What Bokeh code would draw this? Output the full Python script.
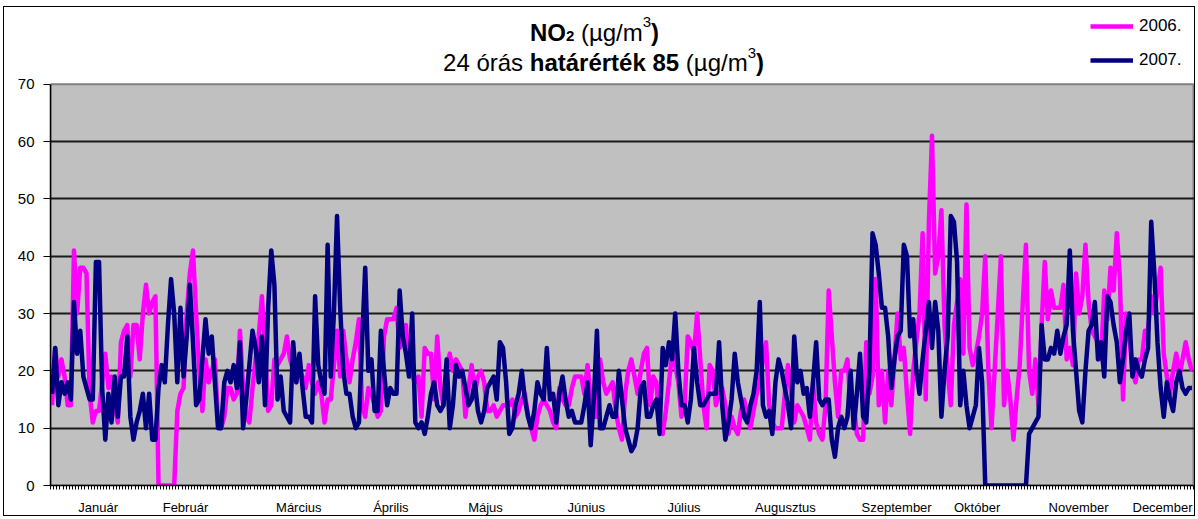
from bokeh.plotting import figure
from bokeh.models import Legend, LegendItem, FixedTicker, ColumnDataSource, Range1d
from bokeh.embed import file_html
from bokeh.resources import INLINE
from bokeh.core.properties import value

# ---------------- data ----------------
no2_2006 = [
    14, 24, 19, 22, 19, 14, 14, 41, 30, 38,
    38, 37, 16, 11, 13, 13, 18, 23, 17, 19,
    14, 11, 25, 27, 28, 19, 28, 28, 22, 30,
    35, 30, 32, 33, 0, 0, 0, 0, 0, 0,
    13, 16, 17, 30, 37, 41, 30, 20, 13, 22,
    18, 20, 22, 11, 10, 12, 17, 17, 15, 16,
    27, 17, 12, 11, 17, 22, 26, 33, 24, 13,
    14, 22, 21, 22, 23, 26, 22, 20, 18, 20,
    19, 17, 21, 18, 16, 18, 16, 11, 15, 15,
    21, 27, 19, 27, 22, 18, 22, 25, 29, 14,
    12, 17, 16, 14, 12, 13, 26, 29, 29, 29,
    31, 24, 25, 28, 20, 19, 18, 19, 12, 24,
    23, 23, 15, 26, 17, 14, 20, 23, 20, 22,
    21, 20, 12, 17, 21, 16, 19, 20, 18, 13,
    13, 14, 12, 13, 14, 14, 14, 15, 12, 13,
    15, 16, 12, 10, 8, 12, 14, 15, 14, 13,
    11, 10, 17, 15, 14, 14, 17, 19, 19, 19,
    16, 21, 15, 12, 12, 22, 18, 16, 17, 18,
    13, 10, 8, 16, 20, 22, 19, 16, 20, 23,
    24, 14, 19, 18, 10, 9, 13, 18, 23, 21,
    18, 12, 14, 26, 25, 23, 30, 22, 14, 10,
    21, 20, 14, 16, 17, 14, 9, 12, 10, 9,
    13, 15, 12, 10, 13, 16, 18, 22, 25, 14,
    11, 10, 10, 10, 16, 21, 16, 11, 14, 13,
    12, 10, 8, 18, 11, 9, 8, 14, 34, 26,
    18, 12, 20, 20, 22, 14, 14, 9, 8, 8,
    25, 16, 19, 36, 14, 20, 11, 20, 14, 22,
    30, 22, 24, 16, 9, 20, 25, 30, 44, 15,
    46, 61, 37, 40, 48, 28, 20, 14, 28, 32,
    36, 23, 49, 24, 21, 23, 26, 30, 40, 20,
    10, 20, 30, 40, 14, 20, 15, 8, 15, 21,
    32, 42, 20, 16, 22, 14, 28, 39, 29, 34,
    31, 31, 31, 35, 22, 24, 21, 37, 30, 33,
    42, 32, 27, 26, 25, 22, 34, 29, 38, 34,
    44, 36, 15, 30, 26, 20, 18, 22, 22, 27,
    27, 33, 30, 34, 38, 23, 19, 16, 20, 23,
    19, 22, 25, 22, 20,
]

no2_2007 = [
    16, 24, 14, 18, 16, 18, 15, 32, 23, 27,
    19, 17, 15, 15, 39, 39, 17, 8, 16, 11,
    19, 12, 19, 19, 26, 12, 8, 11, 13, 16,
    10, 16, 8, 8, 17, 21, 18, 28, 36, 30,
    18, 31, 19, 26, 35, 25, 14, 15, 22, 29,
    23, 26, 18, 10, 10, 18, 20, 18, 21, 17,
    25, 10, 15, 21, 27, 24, 18, 26, 14, 31,
    41, 35, 15, 19, 13, 12, 11, 25, 18, 23,
    17, 12, 12, 11, 33, 21, 18, 16, 42, 19,
    30, 47, 31, 20, 16, 16, 12, 10, 11, 25,
    38, 20, 22, 13, 13, 27, 20, 14, 17, 16,
    16, 34, 26, 23, 19, 30, 11, 10, 11, 9,
    12, 16, 18, 14, 13, 14, 22, 10, 14, 21,
    19, 20, 17, 14, 15, 18, 13, 11, 13, 17,
    18, 19, 15, 25, 24, 18, 9, 10, 14, 16,
    20, 15, 12, 10, 13, 18, 16, 15, 24, 15,
    16, 11, 16, 19, 15, 12, 13, 11, 11, 11,
    14, 18, 7, 15, 27, 10, 10, 12, 14, 12,
    12, 20, 15, 10, 8, 6, 7, 10, 17, 18,
    12, 12, 14, 15, 9, 24, 21, 25, 22, 30,
    20, 14, 14, 11, 15, 24, 18, 14, 14, 15,
    16, 16, 16, 25, 14, 8, 11, 15, 23, 18,
    15, 12, 11, 14, 16, 20, 32, 14, 12, 13,
    9, 18, 22, 20, 17, 14, 10, 26, 18, 20,
    16, 17, 12, 18, 25, 15, 14, 15, 15, 8,
    5, 10, 12, 10, 12, 20, 10, 16, 23, 12,
    11, 20, 44, 42, 37, 31, 31, 26, 17, 22,
    26, 27, 42, 40, 26, 29, 20, 16, 22, 27,
    32, 24, 32, 27, 12, 20, 26, 47, 46, 39,
    14, 20, 14, 10, 12, 14, 24, 18, 0, 0,
    0, 0, 0, 0, 0, 0, 0, 0, 0, 0,
    0, 0, 9, 10, 11, 12, 28, 22, 22, 24,
    23, 27, 23, 26, 28, 41, 27, 20, 13, 11,
    20, 27, 28, 32, 22, 25, 19, 33, 32, 28,
    25, 18, 22, 27, 30, 19, 22, 20, 19, 22,
    24, 46, 37, 25, 17, 12, 18, 15, 13, 18,
    20, 17, 16, 17, 17,
]

series_names = ["2006.", "2007."]
month_labels = ["Január", "Február", "Március", "Április", "Május", "Június",
                "Július", "Augusztus", "Szeptember", "Október", "November", "December"]
month_label_pos = [15.2, 43.1, 79.3, 108.7, 138.9, 171.1,
                   202.3, 234.7, 270.2, 295.9, 328.3, 355.1]
y_ticks = [0, 10, 20, 30, 40, 50, 60, 70]
grid_ticks = [10, 20, 30, 40, 50, 60]
n_days = len(no2_2006)
y_max = 70
assert n_days == 365 and len(no2_2007) == 365

# ---------------- layout (figure pixel coordinates) ----------------
FONT = "Liberation Sans"
W, H = 1192, 510
BL, BB = 46, 24
frame_w = W - BL
frame_h = H - BB
PX_X = 1143 / 365.0     # pixels per day
PX_Y = 408 / 70.0       # pixels per unit
x_end = frame_w / PX_X
y_end = frame_h / PX_Y


def fx(px):  # figure pixel x -> data x
    return (px - BL) / PX_X


def fy(py):  # figure pixel y (from top) -> data y
    return y_end - py / PX_Y


src = ColumnDataSource(data=dict(
    x=[i + 0.5 for i in range(n_days)],
    y2006=no2_2006,
    y2007=no2_2007,
))

p = figure(width=W, height=H, output_backend="svg", toolbar_location=None,
           x_range=Range1d(0, x_end), y_range=Range1d(0, y_end),
           min_border_left=BL, min_border_right=0,
           min_border_top=0, min_border_bottom=BB)
p.styles = {"border": "1px solid #000000", "margin-left": "3px", "margin-top": "6px"}
p.background_fill_color = "#FFFFFF"
p.border_fill_color = "#FFFFFF"
p.outline_line_color = None

# grey plot area
p.quad(left=[0], right=[n_days], bottom=[0], top=[y_max],
       fill_color="#C0C0C0", line_color="#808080", line_width=2, level="image")

r06 = p.line("x", "y2006", source=src, line_color="#FF00FF", line_width=4.5,
             line_join="round")
r07 = p.line("x", "y2007", source=src, line_color="#000080", line_width=4.5,
             line_join="round")

# x axis
xa = p.xaxis[0]
xa.bounds = (0, n_days)
xa.ticker = FixedTicker(ticks=month_label_pos, minor_ticks=list(range(0, n_days + 1)))
xa.major_label_overrides = {pos: lab for pos, lab in zip(month_label_pos, month_labels)}
xa.major_tick_line_color = None
xa.minor_tick_line_color = "#000000"
xa.minor_tick_in = 0
xa.minor_tick_out = 4
xa.axis_line_color = "#000000"
xa.axis_line_width = 1.5
xa.major_label_text_font = FONT
xa.major_label_text_font_size = "13px"
xa.major_label_text_color = "#000000"
xa.major_label_standoff = 8

# y axis
ya = p.yaxis[0]
ya.bounds = (0, y_max)
ya.ticker = FixedTicker(ticks=y_ticks)
ya.minor_tick_line_color = None
ya.major_tick_in = 0
ya.major_tick_out = 7
ya.major_tick_line_color = "#000000"
ya.axis_line_color = "#000000"
ya.axis_line_width = 1.5
ya.major_label_text_font = FONT
ya.major_label_text_font_size = "15px"
ya.major_label_text_color = "#000000"
ya.major_label_standoff = 9

p.xgrid.grid_line_color = None
p.ygrid.ticker = FixedTicker(ticks=grid_ticks)
p.ygrid.bounds = (0, n_days)
p.ygrid.grid_line_color = "#1a1a1a"
p.ygrid.grid_line_width = 2

# ---------------- title (mixed bold, sub/superscripts) ----------------
REG = {'2': 556, '4': 556, ' ': 278, 'ó': 556, 'r': 333, 'á': 556, 's': 500, '(': 333,
       'µ': 576, 'g': 556, '/': 278, 'm': 833, '3': 556, ')': 333, '8': 556, '5': 556}
BLD = {'N': 722, 'O': 778, 'h': 611, 'a': 556, 't': 333, 'á': 556, 'r': 389, 'é': 556,
       'k': 556, ' ': 278, '8': 556, '5': 556, ')': 333, '2': 556}


def text_w(s, bold, size):
    tab = BLD if bold else REG
    return sum(tab.get(c, 556) for c in s) * size / 1000.0


TF = 24
SF = 15


def title_line(pieces, center_px, baseline_py):
    total = sum(text_w(t, b, sz) for t, b, sz, dy in pieces)
    x = center_px - total / 2.0
    for t, b, sz, dy in pieces:
        lead = len(t) - len(t.lstrip(" "))
        xd = x + text_w(t[:lead], b, sz)
        p.text(x=[fx(xd)], y=[fy(baseline_py - dy)], text=[t.strip(" ")],
               text_font=value(FONT), text_font_size=f"{sz}px",
               text_font_style="bold" if b else "normal",
               text_color="#000000", text_align="left", text_baseline="alphabetic")
        x += text_w(t, b, sz)


title_line([("NO", True, TF, 0), ("2", True, SF, -4), (" (µg/m", False, TF, 0),
            ("3", False, SF, 10), (")", True, TF, 0)], 590, 25)
title_line([("24 órás ", False, TF, 0), ("határérték 85", True, TF, 0),
            (" (µg/m", False, TF, 0), ("3", False, SF, 10), (")", True, TF, 0)], 599, 56)

# ---------------- legend ----------------
legend = Legend(items=[LegendItem(label=series_names[0], renderers=[r06]),
                       LegendItem(label=series_names[1], renderers=[r07])],
                location=(1086 - BL, frame_h - 71),
                orientation="vertical",
                glyph_width=43, glyph_height=20, label_height=20, spacing=14,
                label_standoff=6, padding=0, margin=0,
                border_line_color=None, background_fill_alpha=0,
                label_text_font=FONT, label_text_font_size="17px",
                label_text_color="#000000")
p.add_layout(legend, "center")

open("out.html", "w").write(file_html(p, INLINE))
